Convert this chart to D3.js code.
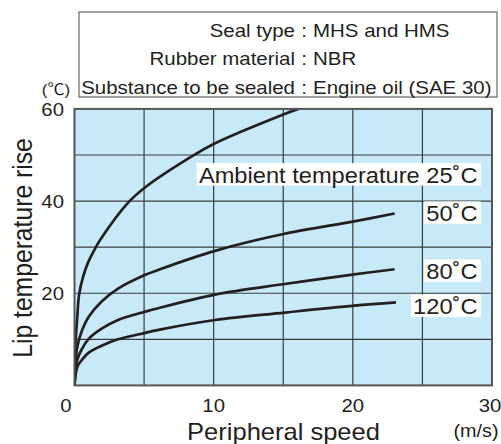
<!DOCTYPE html>
<html>
<head>
<meta charset="utf-8">
<script src="https://cdn.jsdelivr.net/npm/d3@7"></script>
<style>
  html, body { margin: 0; padding: 0; background: #fff; }
  svg { display: block; }
  text { font-family: "Liberation Sans", Arial, "Noto Sans CJK JP", sans-serif; fill: #231f20; }
</style>
</head>
<body>
<svg id="chart" width="501" height="444"></svg>
<script>
// ---- data ----
const speed25 = [0, 0.05, 0.2, 0.33, 0.62, 0.98, 1.5, 1.85, 3.87, 5.09, 8.54, 10.07, 15.1, 16.08];
const rise25  = [0, 8, 14.9, 19.7, 23.6, 26.7, 29.8, 31.6, 39.7, 43.0, 49.9, 52.5, 58.9, 60];

const speed50 = [0, 0.08, 0.2, 0.55, 1.02, 1.95, 3.13, 5.09, 5.95, 10.1, 15.1, 20.1, 23.0];
const rise50  = [0, 5.0, 8.4, 12.0, 14.9, 18.2, 21.0, 24.0, 25.0, 29.2, 32.9, 35.6, 37.3];

const speed80 = [0, 0.2, 0.55, 1.02, 1.95, 3.13, 5.09, 5.95, 10.1, 15.1, 20.1, 23.0];
const rise80  = [0, 5.6, 8.0, 10.1, 12.3, 14.2, 16.0, 16.7, 19.7, 22.0, 24.1, 25.2];

const speed120 = [0, 0.2, 0.55, 1.02, 1.95, 3.13, 5.09, 5.95, 10.1, 15.1, 20.1, 23.1];
const rise120  = [0, 4.0, 5.6, 7.1, 8.6, 10.0, 11.4, 12.0, 14.2, 15.8, 17.3, 18.0];

const seriesLabels = ["Ambient temperature 25˚C", "50˚C", "80˚C", "120˚C"];

const speedTicks = [0, 10, 20, 30];
const riseTicks = [20, 40, 60];
const speedGrid = [5, 10, 15, 20, 25];
const riseGrid = [10, 20, 30, 40, 50];

const legendKeys = ["Seal type", "Rubber material", "Substance to be sealed"];
const legendValues = ["MHS and HMS", "NBR", "Engine oil (SAE 30)"];

const xTitle = "Peripheral speed";
const xUnit = "(m/s)";
const yTitle = "Lip temperature rise";
const yUnit = "(℃)";

// ---- layout ----
const SX = 1.1; // horizontal stretch of lettering in the reference
const svg = d3.select("#chart");
const x = d3.scaleLinear().domain([0, 30]).range([74.5, 492]);
const y = d3.scaleLinear().domain([0, 60]).range([385.4, 108.9]);

function stext(parent, px, py, str, size, anchor) {
  return parent.append("text")
    .attr("transform", `translate(${px},${py}) scale(${SX},1)`)
    .attr("text-anchor", anchor)
    .style("font-size", size + "px")
    .text(str);
}

// plot background
svg.append("rect")
  .attr("x", x(0)).attr("y", y(60))
  .attr("width", x(30) - x(0)).attr("height", y(0) - y(60))
  .attr("fill", "#c7e9f8");

// grid
svg.append("g").selectAll("line").data(speedGrid).join("line")
  .attr("x1", d => x(d)).attr("x2", d => x(d))
  .attr("y1", y(0)).attr("y2", y(60))
  .attr("stroke", "#3d3d3d").attr("stroke-width", 1.2);
svg.append("g").selectAll("line").data(riseGrid).join("line")
  .attr("y1", d => y(d)).attr("y2", d => y(d))
  .attr("x1", x(0)).attr("x2", x(30))
  .attr("stroke", "#3d3d3d").attr("stroke-width", 1.2);

// clip
svg.append("clipPath").attr("id", "plotclip").append("rect")
  .attr("x", x(0)).attr("y", y(60))
  .attr("width", x(30) - x(0)).attr("height", y(0) - y(60));

// curves
const series = [
  { s: speed25, r: rise25 },
  { s: speed50, r: rise50 },
  { s: speed80, r: rise80 },
  { s: speed120, r: rise120 }
];
const line = d3.line().x(d => x(d[0])).y(d => y(d[1])).curve(d3.curveCatmullRom.alpha(0.5));
svg.append("g").attr("clip-path", "url(#plotclip)")
  .selectAll("path").data(series).join("path")
  .attr("d", d => line(d.s.map((v, i) => [v, d.r[i]])))
  .attr("fill", "none").attr("stroke", "#231f20").attr("stroke-width", 2.7)
  .attr("stroke-linecap", "butt").attr("stroke-linejoin", "round");

// frame
svg.append("rect")
  .attr("x", x(0)).attr("y", y(60))
  .attr("width", x(30) - x(0)).attr("height", y(0) - y(60))
  .attr("fill", "none").attr("stroke", "#555").attr("stroke-width", 2);

// curve labels (white boxes)
const labelRise = [43.9, 35.6, 23.0, 15.4]; // baseline positions in data units
const labelRight = 477.5;
seriesLabels.forEach((lab, i) => {
  const g = svg.append("g")
    .attr("transform", `translate(${labelRight},${y(labelRise[i])}) scale(${SX},1)`);
  const rect = g.append("rect").attr("fill", "#fff");
  const t = g.append("text").attr("text-anchor", "end").style("font-size", "21.5px").text(lab);
  const bb = t.node().getBBox();
  rect.attr("x", bb.x - 2).attr("width", bb.width + 5)
      .attr("y", -20).attr("height", 22.5);
});

// tick labels
speedTicks.forEach((v, i) => {
  const off = i === 0 ? -8.5 : (i === speedTicks.length - 1 ? -2 : 0);
  stext(svg, x(v) + off, 411.7, String(v), 18.5, "middle");
});
riseTicks.forEach(v => {
  stext(svg, 64, y(v) + 6.6, String(v), 18.5, "end");
});

// axis titles
stext(svg, 283.5, 440, xTitle, 23.2, "middle");
stext(svg, 476, 436.5, xUnit, 18, "middle");
svg.append("text")
  .attr("transform", `translate(32,248) scale(${SX},1) rotate(-90)`)
  .attr("text-anchor", "middle")
  .style("font-size", "24.7px")
  .text(yTitle);
stext(svg, 56, 94.5, yUnit, 15.5, "middle");

// legend box
svg.append("rect")
  .attr("x", 79).attr("y", 12).attr("width", 418).attr("height", 85)
  .attr("fill", "#fff").attr("stroke", "#666").attr("stroke-width", 1.2);
const legBase = [36.5, 65.3, 94];
legendKeys.forEach((k, i) => {
  stext(svg, 295, legBase[i], k, 18.6, "end");
  stext(svg, 304, legBase[i], ":", 18.6, "middle");
  stext(svg, 313, legBase[i], legendValues[i], 18.6, "start");
});
</script>
</body>
</html>
